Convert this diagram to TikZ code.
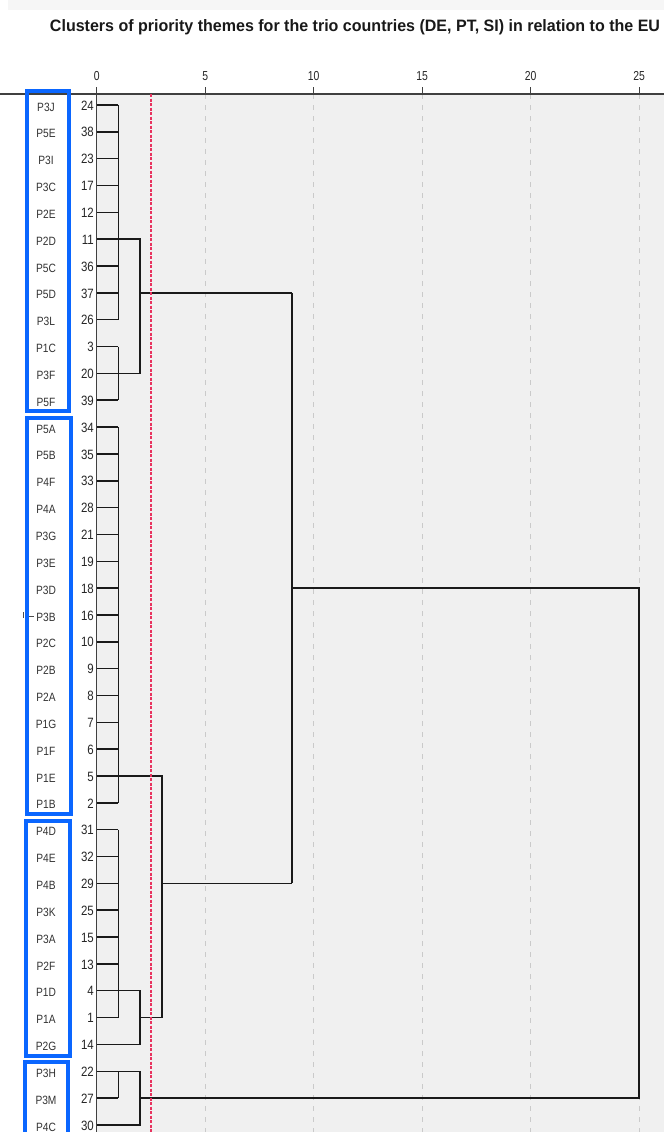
\documentclass[tikz,border=0pt]{standalone}
\usepackage{fontspec}
\setmainfont{Liberation Sans}
\usepackage{graphicx}
\definecolor{boxblue}{HTML}{0A66FF}
\definecolor{plotbg}{HTML}{F0F0F0}
\definecolor{gridgray}{HTML}{CACACA}
\definecolor{cutred}{HTML}{E8335F}
\definecolor{dendro}{HTML}{1A1A1A}
\begin{document}
\begin{tikzpicture}[x=1pt,y=-1pt,
  dline/.style={draw=dendro, line width=1.5pt, line join=miter},
  gridline/.style={draw=gridgray, line width=0.9pt, dash pattern=on 5pt off 6pt},
  cutline/.style={draw=cutred, line width=1.2pt, dash pattern=on 3pt off 1.5pt},
  bluebox/.style={draw=boxblue, line width=4pt},
  axisline/.style={draw=black!75, line width=1.3pt},
  leafnum/.style={anchor=east, inner sep=0pt, font=\fontsize{13.5}{14}\selectfont, text=black!85},
  leaflab/.style={inner sep=0pt, font=\fontsize{12}{12}\selectfont, text=black!80},
  ticklab/.style={inner sep=0pt, font=\fontsize{13}{13}\selectfont, text=black!85}]
\useasboundingbox (0,0) rectangle (664,1132);
\fill[white] (0,0) rectangle (664,1132);
\fill[gray!7] (8,0) rectangle (664,10);
\fill[plotbg] (96.7,94) rectangle (664,1132);
\coordinate (bot) at (0,1132);
\coordinate (tky) at (0,76);
% x positions (distance scale)
\foreach \d in {0,1,2,3,5,9,10,15,20,25}
  \coordinate (x\d) at (96.7+21.7*\d,94);
\coordinate (xcut) at (96.7+21.7*2.5,94);
% grid lines
\foreach \d in {5,10,15,20,25}
  \draw[gridline] (x\d) -- (x\d |- bot);
% title
\node[inner sep=0pt, text=black!90] (title) at (355,27)
  {\resizebox{610pt}{\height}{\fontsize{16.5}{18}\selectfont\bfseries Clusters of priority themes for the trio countries (DE, PT, SI) in relation to the EU}};
% rows: leaf numbers and labels
\foreach \n/\l [count=\i from 0] in {24/P3J,38/P5E,23/P3I,17/P3C,12/P2E,11/P2D,36/P5C,37/P5D,26/P3L,3/P1C,20/P3F,39/P5F,34/P5A,35/P5B,33/P4F,28/P4A,21/P3G,19/P3E,18/P3D,16/P3B,10/P2C,9/P2B,8/P2A,7/P1G,6/P1F,5/P1E,2/P1B,31/P4D,32/P4E,29/P4B,25/P3K,15/P3A,13/P2F,4/P1D,1/P1A,14/P2G,22/P3H,27/P3M,30/P4C}{
  \coordinate (r\i) at (96.7,105+26.84*\i);
  \node[leafnum] (n\i) at (94,105.5+26.84*\i) {\scalebox{0.85}[1]{\n}};
  \node[leaflab] (l\i) at (46,107+26.84*\i) {\scalebox{0.85}[1]{\l}};
}
% axes
\draw[axisline] (0,94) -- (664,94);
\draw[axisline] (x0) -- (x0 |- bot);
\foreach \d in {0,5,10,15,20,25}{
  \draw[axisline] (x\d) -- ++(0,-7);
  \node[ticklab] (tk\d) at (x\d |- tky) {\scalebox{0.8}[1]{\d}};
}
% leaves
\foreach \i in {0,...,38}
  \draw[dline] (r\i) -- (x1 |- r\i);
% cluster A + B
\draw[dline] (x1 |- r0) -- (x1 |- r8);
\draw[dline] (x1 |- r9) -- (x1 |- r11);
\draw[dline] (x1 |- r5) -- (x2 |- r5) -- (x2 |- r10) -- (x1 |- r10);
\draw[dline] (x2 |- r7) -- (x9 |- r7);
% cluster C
\draw[dline] (x1 |- r12) -- (x1 |- r26);
\draw[dline] (x1 |- r25) -- (x3 |- r25) -- (x3 |- r34) -- (x2 |- r34);
% cluster D
\draw[dline] (x1 |- r27) -- (x1 |- r34);
\draw[dline] (x1 |- r33) -- (x2 |- r33) -- (x2 |- r35) -- (x1 |- r35);
\draw[dline] (x3 |- r29) -- (x9 |- r29);
\draw[dline] (x9 |- r7) -- (x9 |- r29);
\draw[dline] (x9 |- r18) -- (x25 |- r18) -- (x25 |- r37) -- (x2 |- r37);
% cluster E
\draw[dline] (x1 |- r36) -- (x1 |- r37);
\draw[dline] (x1 |- r36) -- (x2 |- r36) -- (x2 |- r38) -- (x1 |- r38);
% cut line
\draw[cutline] (xcut) -- (xcut |- bot);
% blue boxes
\draw[bluebox] (27,91) rectangle (69,411);
\draw[bluebox] (27,418) rectangle (70.5,814);
\draw[bluebox] (26.3,821) rectangle (69.7,1056);
\draw[bluebox] (24.7,1062) rectangle (68,1140);
% small mark near P3B
\draw[black!70, line width=0.8pt] (29,616) -- (34,616);
\draw[black!70, line width=0.7pt] (23.5,612) -- (23.5,618);
\end{tikzpicture}
\end{document}
